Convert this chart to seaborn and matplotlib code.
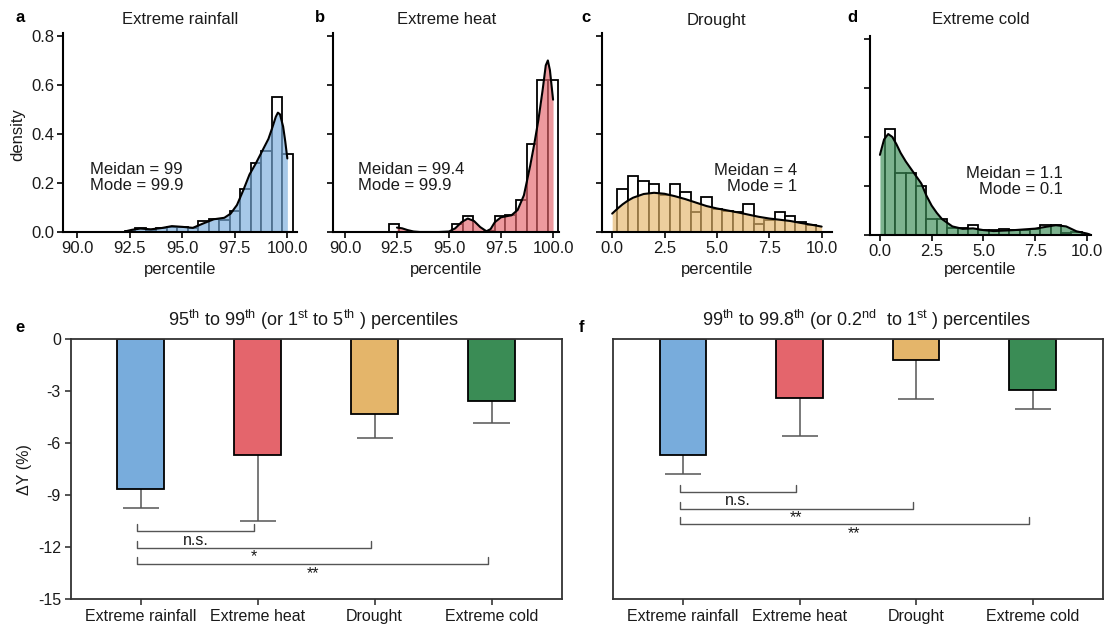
import numpy as np
import pandas as pd
import matplotlib
matplotlib.use("Agg")
import matplotlib.pyplot as plt
import seaborn as sns

# ---------------- data ----------------
hist_titles = ["Extreme rainfall", "Extreme heat", "Drought", "Extreme cold"]
top_letters = ["a", "b", "c", "d"]
medians = ["99", "99.4", "4", "1.1"]
modes = ["99.9", "99.9", "1", "0.1"]

a_centers = [92.5, 93.0, 93.5, 94.0, 94.5, 95.0, 95.5, 96.0, 96.5, 97.0, 97.5, 98.0, 98.5, 99.0, 99.5, 100.0]
a_heights = [0.005, 0.015, 0.010, 0.015, 0.022, 0.020, 0.015, 0.045, 0.055, 0.050, 0.085, 0.175, 0.280, 0.330, 0.552, 0.320]
a_kde_x = [92.3, 92.6, 93.0, 93.5, 94.0, 94.5, 95.0, 95.5, 96.0, 96.5, 97.0, 97.3, 97.6, 97.9, 98.2, 98.5,
           98.8, 99.1, 99.3, 99.45, 99.55, 99.65, 99.8, 99.9, 100.0]
a_kde_y = [0.003, 0.009, 0.014, 0.011, 0.016, 0.024, 0.021, 0.017, 0.035, 0.052, 0.058, 0.075, 0.11, 0.17, 0.235, 0.28,
           0.33, 0.38, 0.43, 0.47, 0.487, 0.48, 0.43, 0.37, 0.30]

b_centers = [92.35, 92.86, 93.37, 93.88, 94.39, 94.90, 95.41, 95.92, 96.43, 96.94, 97.45, 97.96, 98.47, 98.98, 99.49, 100.0]
b_heights = [0.031, 0.0, 0.0, 0.0, 0.0, 0.0, 0.031, 0.064, 0.0, 0.005, 0.064, 0.068, 0.130, 0.360, 0.620, 0.620]
b_kde_x = [92.5, 92.75, 93.0, 93.3, 93.6, 94.5, 95.0, 95.3, 95.6, 95.9, 96.2, 96.5, 96.8, 97.0, 97.2, 97.5, 97.8,
           98.0, 98.3, 98.6, 98.9, 99.1, 99.3, 99.5, 99.65, 99.75, 99.85, 99.95, 100.0]
b_kde_y = [0.018, 0.015, 0.008, 0.002, 0.0, 0.0, 0.002, 0.015, 0.040, 0.055, 0.045, 0.020, 0.003, 0.012, 0.040, 0.060, 0.065,
           0.068, 0.090, 0.15, 0.27, 0.36, 0.46, 0.58, 0.68, 0.70, 0.66, 0.58, 0.54]

c_centers = [0.5, 1.0, 1.5, 2.0, 2.5, 3.0, 3.5, 4.0, 4.5, 5.0, 5.5, 6.0, 6.5, 7.0, 7.5, 8.0, 8.5, 9.0, 9.5]
c_heights = [0.177, 0.228, 0.210, 0.195, 0.150, 0.195, 0.162, 0.080, 0.143, 0.095, 0.085, 0.080, 0.113, 0.034, 0.050,
             0.082, 0.064, 0.040, 0.030]
c_kde_x = [0.0, 0.25, 0.5, 0.75, 1.0, 1.5, 2.0, 2.5, 3.0, 3.5, 4.0, 4.5, 5.0, 5.5, 6.0, 6.5, 7.0, 7.5, 8.0, 8.5,
           9.0, 9.5, 10.0]
c_kde_y = [0.075, 0.095, 0.113, 0.128, 0.140, 0.155, 0.160, 0.156, 0.146, 0.134, 0.120, 0.106, 0.096, 0.088, 0.080,
           0.071, 0.062, 0.055, 0.050, 0.045, 0.037, 0.030, 0.022]

d_centers = [0.5, 1.0, 1.5, 2.0, 2.5, 3.0, 3.5, 4.0, 4.5, 5.0, 5.5, 6.0, 6.5, 7.0, 7.5, 8.0, 8.5, 9.0, 9.5]
d_heights = [0.432, 0.255, 0.252, 0.200, 0.064, 0.064, 0.030, 0.030, 0.040, 0.020, 0.020, 0.026, 0.020, 0.020, 0.024,
             0.040, 0.040, 0.007, 0.012]
d_kde_x = [0.0, 0.2, 0.4, 0.6, 0.8, 1.0, 1.25, 1.5, 1.75, 2.0, 2.25, 2.5, 2.75, 3.0, 3.5, 4.0, 4.5, 5.0, 5.5, 6.0,
           6.5, 7.0, 7.5, 8.0, 8.5, 9.0, 9.5, 10.0, 10.15]
d_kde_y = [0.327, 0.39, 0.412, 0.40, 0.37, 0.335, 0.30, 0.27, 0.24, 0.21, 0.16, 0.12, 0.09, 0.065, 0.035, 0.025,
           0.027, 0.020, 0.016, 0.018, 0.020, 0.023, 0.026, 0.033, 0.040, 0.035, 0.015, 0.006, 0.002]

categories = ["Extreme rainfall", "Extreme heat", "Drought", "Extreme cold"]
e_means = [-8.65, -6.70, -4.33, -3.60]
e_err_ends = [-9.77, -10.48, -5.72, -4.82]
f_means = [-6.70, -3.43, -1.21, -2.97]
f_err_ends = [-7.76, -5.59, -3.45, -4.03]
sig_pairs = [(0, 1), (0, 2), (0, 3)]
e_sig_levels = [-11.1, -12.07, -13.0]
e_sig_labels = ["n.s.", "*", "**"]
f_sig_levels = [-8.8, -9.8, -10.69]
f_sig_labels = ["n.s.", "**", "**"]
y_ticks_bottom = [0, -3, -6, -9, -12, -15]

e_title = r"95$^{th}$ to 99$^{th}$ (or 1$^{st}$ to 5$^{th}$ ) percentiles"
f_title = r"99$^{th}$ to 99.8$^{th}$ (or 0.2$^{nd}$  to 1$^{st}$ ) percentiles"

# ---------------- style ----------------
bar_colors = ["#78acdc", "#e4656c", "#e4b56a", "#3a8c55"]
sns.set_theme(style="ticks")
plt.rcParams["font.family"] = ["Liberation Sans", "DejaVu Sans"]
plt.rcParams["mathtext.fontset"] = "custom"
plt.rcParams["mathtext.rm"] = "Liberation Sans"
plt.rcParams["mathtext.default"] = "regular"
plt.rcParams["axes.unicode_minus"] = False
TXT = "#1a1a1a"

W, H = 1104, 626
fig = plt.figure(figsize=(W / 100, H / 100), dpi=100)


def px_axes(x0, y0, x1, y1):
    return fig.add_axes([x0 / W, 1 - y1 / H, (x1 - x0) / W, (y1 - y0) / H])


top_boxes = [(63.3, 33, 297, 232), (333.3, 33, 559.3, 232), (601.7, 33, 831.7, 232), (870, 36, 1091, 235)]
top_xlims = [(89.33, 100.46), (89.44, 100.3), (-0.5, 10.48), (-0.48, 10.2)]
top_widths = [0.5, 0.51, 0.5, 0.5]
top_data = [
    (a_centers, a_heights, a_kde_x, a_kde_y),
    (b_centers, b_heights, b_kde_x, b_kde_y),
    (c_centers, c_heights, c_kde_x, c_kde_y),
    (d_centers, d_heights, d_kde_x, d_kde_y),
]
letter_x = [15, 315, 581, 847]

for i in range(4):
    box = top_boxes[i]
    ax = px_axes(*box)
    centers, heights, kx, ky = top_data[i]
    w = top_widths[i]
    edges = [c - w / 2 for c in centers] + [centers[-1] + w / 2]
    sns.histplot(x=centers, weights=heights, bins=edges, stat="count", color="white",
                 edgecolor="black", linewidth=1.3, alpha=1, ax=ax, zorder=1)
    ax.fill_between(kx, ky, 0, color=bar_colors[i], alpha=0.66, lw=0, zorder=2)
    sns.lineplot(x=kx, y=ky, color="black", lw=1.5, ax=ax, zorder=3, sort=False)
    ax.set_xlim(*top_xlims[i])
    ax.set_ylim(0, 0.812)
    if i < 2:
        ax.set_xticks([90, 92.5, 95, 97.5, 100])
        ax.set_xticklabels(["90.0", "92.5", "95.0", "97.5", "100.0"])
    else:
        ax.set_xticks([0, 2.5, 5, 7.5, 10])
        ax.set_xticklabels(["0.0", "2.5", "5.0", "7.5", "10.0"])
    ax.set_yticks([0, 0.2, 0.4, 0.6, 0.8])
    if i == 0:
        ax.set_yticklabels(["0.0", "0.2", "0.4", "0.6", "0.8"])
    else:
        ax.set_yticklabels([])
    ax.set_xlabel("")
    ax.set_ylabel("")
    sns.despine(ax=ax)
    for s in ["left", "bottom"]:
        ax.spines[s].set_linewidth(1.5)
        ax.spines[s].set_color("black")
    ax.tick_params(axis="both", length=4.5, width=1.2, color="black", labelsize=12, labelcolor=TXT, pad=2)
    label = f"Meidan = {medians[i]}\nMode = {modes[i]}"
    if i < 2:
        ax.text(90.62, 0.222, label, ha="left", va="center", fontsize=12, color=TXT, linespacing=1.15)
    else:
        ax.text(8.85, 0.218, label, ha="right", va="center", multialignment="right",
                fontsize=12, color=TXT, linespacing=1.15)
    cx = (box[0] + box[2]) / 2
    fig.text(cx / W, 1 - 20 / H, hist_titles[i], ha="center", va="center", fontsize=12, color=TXT)
    fig.text(cx / W, 1 - 270 / H, "percentile", ha="center", va="center", fontsize=12, color=TXT)
    fig.text(letter_x[i] / W, 1 - 17 / H, top_letters[i], ha="left", va="center", fontsize=12,
             fontweight="bold", color="black")

fig.text(18 / W, 1 - 135 / H, "density", ha="center", va="center", rotation=90, fontsize=12, color=TXT)

# ---------------- bottom bar panels ----------------
bottom_boxes = [(70.7, 339, 561.7, 599), (613.3, 339, 1102.5, 599)]
bottom_means = [e_means, f_means]
bottom_errs = [e_err_ends, f_err_ends]
bottom_levels = [e_sig_levels, f_sig_levels]
bottom_labels = [e_sig_labels, f_sig_labels]
bottom_titles = [e_title, f_title]
title_x = [313, 867]
bottom_letters = ["e", "f"]
bottom_letter_x = [15, 579]

for j in range(2):
    box = bottom_boxes[j]
    ax = px_axes(*box)
    df = pd.DataFrame({"cat": categories, "val": bottom_means[j]})
    pos = np.arange(len(categories))
    # error bars (downward only)
    ax.vlines(pos, bottom_errs[j], bottom_means[j], color="#555555", lw=1.1, zorder=0.5)
    ax.hlines(bottom_errs[j], pos - 0.155, pos + 0.155, color="#555555", lw=1.1, zorder=0.5)
    sns.barplot(data=df, x="cat", y="val", hue="cat", palette=bar_colors, legend=False, saturation=1,
                width=0.4, edgecolor="black", linewidth=1.3, errorbar=None, ax=ax, zorder=2)
    for (p0, p1), lvl, lab in zip(sig_pairs, bottom_levels[j], bottom_labels[j]):
        x0, x1 = pos[p0] - 0.03, pos[p1] - 0.03
        ax.plot([x0, x0, x1, x1], [lvl + 0.4, lvl, lvl, lvl + 0.4], color="#555555", lw=1.0, zorder=1)
        ax.text((x0 + x1) / 2, lvl - 0.08, lab, ha="center", va="top", fontsize=11.5, color=TXT)
    ax.set_xlim(-0.6, 3.6)
    ax.set_ylim(-15, 0)
    ax.set_yticks(y_ticks_bottom)
    if j == 0:
        ax.set_yticklabels([str(t) for t in y_ticks_bottom])
        ax.tick_params(axis="y", length=4, width=1.1, labelsize=11.5, labelcolor=TXT, pad=3)
    else:
        ax.set_yticklabels([])
        ax.tick_params(axis="y", length=0)
    ax.tick_params(axis="x", length=4, width=1.1, labelsize=11.5, labelcolor=TXT, pad=3)
    ax.set_xlabel("")
    ax.set_ylabel("")
    for s in ax.spines.values():
        s.set_visible(True)
        s.set_linewidth(1.3)
        s.set_color("#333333")
    fig.text(title_x[j] / W, 1 - 320 / H, bottom_titles[j], ha="center", va="center", fontsize=13, color=TXT)
    fig.text(bottom_letter_x[j] / W, 1 - 328 / H, bottom_letters[j], ha="left", va="center", fontsize=12,
             fontweight="bold", color="black")

fig.text(25 / W, 1 - 470 / H, "ΔY (%)", ha="center", va="center", rotation=90, fontsize=11.5, color=TXT)

fig.savefig("out.png", dpi=100)
